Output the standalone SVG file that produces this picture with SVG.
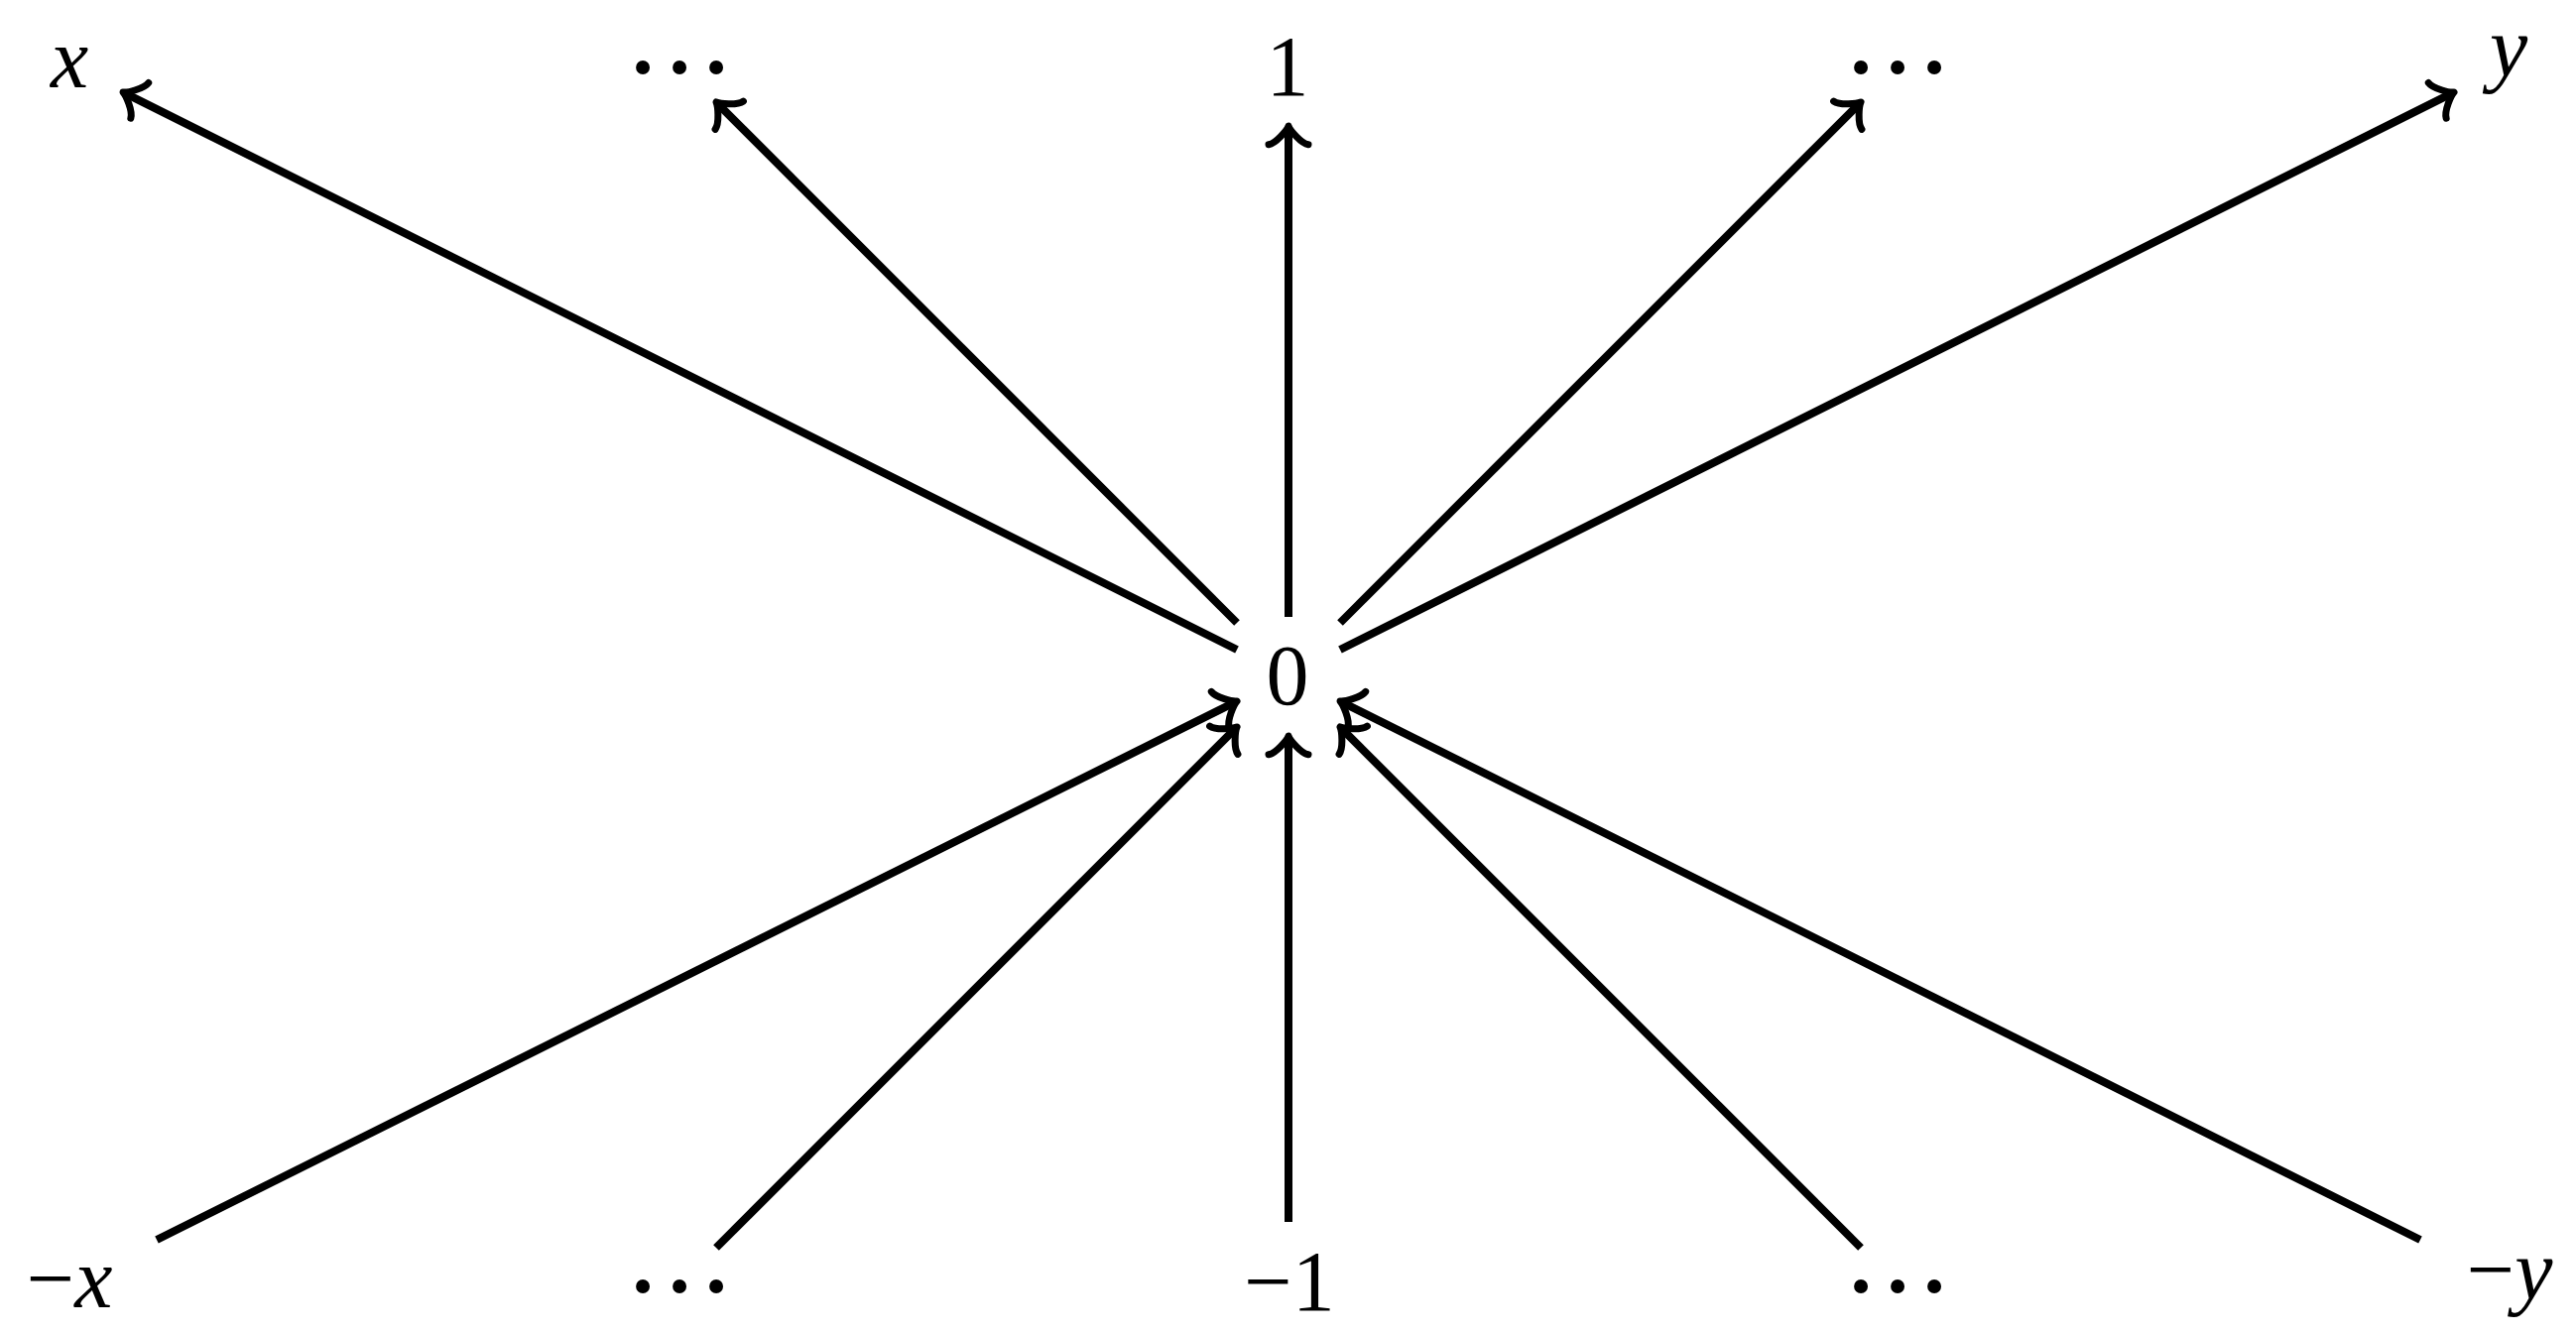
<svg xmlns="http://www.w3.org/2000/svg" width="2597" height="1346" viewBox="0 0 2597 1346">
<style>
.lbl{font-family:"Liberation Serif","Times New Roman",serif;font-size:86px;fill:#000}
.it{font-style:italic}
.dots{font-weight:bold}
.edge{stroke:#000;stroke-width:8;fill:none;stroke-linecap:butt;marker-end:url(#to)}
</style>
<defs>
<marker id="to" markerUnits="userSpaceOnUse" orient="auto" refX="-3" refY="0" markerWidth="60" markerHeight="60" viewBox="-30 -30 60 60" overflow="visible">
<path d="M -18.75 20 C -17.5 12.5 -3.75 1.25 0 0 C -3.75 -1.25 -17.5 -12.5 -18.75 -20" fill="none" stroke="#000" stroke-width="7" stroke-linecap="round" stroke-linejoin="round"/>
</marker>
</defs>
<rect width="2597" height="1346" fill="#fff"/>
<g id="n-x"><text class="lbl it" x="70" y="88" text-anchor="middle">x</text></g>
<g id="n-dots-tl"><text class="lbl dots" x="648 685 722" y="97" text-anchor="middle">···</text></g>
<g id="n-1"><text class="lbl" x="1298" y="96" text-anchor="middle">1</text></g>
<g id="n-dots-tr"><text class="lbl dots" x="1876 1913 1950" y="97" text-anchor="middle">···</text></g>
<g id="n-y"><text class="lbl it" x="2529" y="76" text-anchor="middle">y</text></g>
<g id="n-0"><text class="lbl" x="1298" y="710" text-anchor="middle">0</text></g>
<g id="n-negx"><text class="lbl" x="70" y="1318" text-anchor="middle">−<tspan class="it">x</tspan></text></g>
<g id="n-dots-bl"><text class="lbl dots" x="648 685 722" y="1326" text-anchor="middle">···</text></g>
<g id="n-neg1"><text class="lbl" x="1300" y="1321" text-anchor="middle">−1</text></g>
<g id="n-dots-br"><text class="lbl dots" x="1876 1913 1950" y="1326" text-anchor="middle">···</text></g>
<g id="n-negy"><text class="lbl" x="2530" y="1309" text-anchor="middle">−<tspan class="it">y</tspan></text></g>
<g id="edges">
<line class="edge" x1="1247" y1="655" x2="126.7" y2="94.3"/>
<line class="edge" x1="1247" y1="628" x2="724.1" y2="105.1"/>
<line class="edge" x1="1299" y1="622" x2="1299" y2="130"/>
<line class="edge" x1="1351" y1="628" x2="1873.9" y2="105.1"/>
<line class="edge" x1="1351" y1="655" x2="2471.3" y2="94.3"/>
<line class="edge" x1="158" y1="1250" x2="1244.3" y2="708.3"/>
<line class="edge" x1="722" y1="1258" x2="1244.9" y2="735.1"/>
<line class="edge" x1="1299" y1="1232" x2="1299" y2="745"/>
<line class="edge" x1="1876" y1="1258" x2="1353.1" y2="735.1"/>
<line class="edge" x1="2440" y1="1250" x2="1353.7" y2="708.3"/>
</g>
</svg>
